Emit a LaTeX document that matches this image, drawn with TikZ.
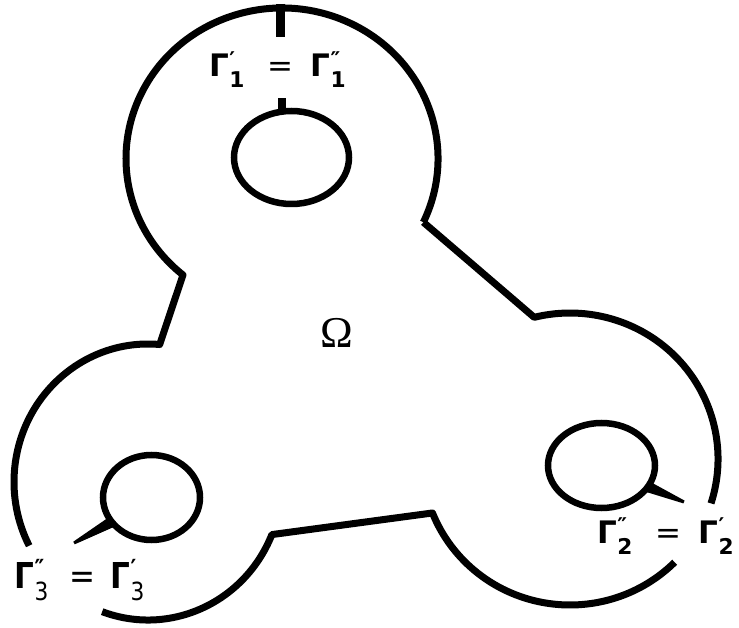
\documentclass[tikz,border=0pt]{standalone}
\usepackage{fontspec}
\usepackage{amsmath}
\usetikzlibrary{shapes.geometric,calc}
\newfontfamily\lblfont{DejaVu Sans}
\newfontfamily\omfont{Liberation Serif}
\tikzset{
  outline/.style={line width=7pt, line join=round, line cap=butt},
  hole/.style={draw, ellipse, line width=6.5pt, inner sep=0pt, outer sep=0pt},
  cutline/.style={fill=black},
  lbl/.style={font=\lblfont\bfseries\fontsize{31}{36}\selectfont, inner sep=0pt, anchor=base},
}
\newcommand{\eqsign}{{\mdseries =}}
\begin{document}
\begin{tikzpicture}[x=1pt,y=1pt]
\useasboundingbox (0,0) rectangle (739,627);
% lobe centres
\coordinate (C1) at (282,468.4);
\coordinate (C2) at (570,168);
\coordinate (C3) at (148,145);
\path (C1) ++(-25:156 and 150.6) coordinate (R1);
\path (C1) ++(230.6:156 and 150.6) coordinate (L1);
\path (C3) ++(85:134 and 138) coordinate (L3a);
\path (C3) ++(207.5:134 and 138) coordinate (L3b);
\path (C3) ++(250:134 and 138) coordinate (L3c);
\path (C3) ++(337.6:134 and 138) coordinate (L3d);
\path (C2) ++(201.7:148 and 146) coordinate (R2a);
\path (C2) ++(315:148 and 146) coordinate (R2b);
\path (C2) ++(342.3:148 and 146) coordinate (R2c);
\path (C2) ++(104:148 and 146) coordinate (R2d);
% outer boundary
\draw[outline] (R1) arc[start angle=-25, end angle=230.6, x radius=156, y radius=150.6]
  -- (L3a) arc[start angle=85, end angle=207.5, x radius=134, y radius=138];
\draw[outline] (L3c) arc[start angle=250, end angle=337.6, x radius=134, y radius=138]
  -- (R2a) arc[start angle=201.7, end angle=315, x radius=148, y radius=146];
\draw[outline] (R2c) arc[start angle=342.3, end angle=464, x radius=148, y radius=146]
  -- (R1);
% holes
\node[hole, minimum width=115pt, minimum height=93pt] (H1) at (291.5,469.5) {};
\node[hole, minimum width=107pt, minimum height=85pt] (H2) at (601.5,161.5) {};
\node[hole, minimum width=97pt, minimum height=85pt] (H3) at (151.5,129.5) {};
% cut 1
\coordinate (T0) at (280,623);
\coordinate (T1) at (280,590);
\draw[line width=9pt] (T0) -- (T1);
\coordinate (S0) at (282,516);
\coordinate (S1) at (282,529);
\draw[line width=8pt] (S0) -- (S1);
% cut 2 (tapered)
\path (H2.center) ++(-30:53.5 and 42.5) coordinate (P2a);
\coordinate (P2b) at (684,125);
\fill[cutline] ($(P2a)!5.5pt!90:(P2b)$) -- ($(P2b)!1.5pt!-90:(P2a)$) -- ($(P2b)!1.5pt!90:(P2a)$) -- ($(P2a)!5.5pt!-90:(P2b)$) -- cycle;
% cut 3 (tapered)
\path (H3.center) ++(215:48.5 and 42.5) coordinate (P3a);
\coordinate (P3b) at (74,84);
\fill[cutline] ($(P3a)!5.5pt!90:(P3b)$) -- ($(P3b)!1.5pt!-90:(P3a)$) -- ($(P3b)!1.5pt!90:(P3a)$) -- ($(P3a)!5.5pt!-90:(P3b)$) -- cycle;
% labels
\node[lbl] (G1) at (278,550) {Γ$^{\text{′}}_{\text{1}}$\hspace{22pt}\eqsign\hspace{18pt}Γ$^{\text{″}}_{\text{1}}$};
\node[lbl] (G2) at (666,84) {Γ$^{\text{″}}_{\text{2}}$\hspace{22pt}\eqsign\hspace{18pt}Γ$^{\text{′}}_{\text{2}}$};
\node[lbl, yscale=1.15] (G3) at (80,39) {Γ$^{\text{″}}_{\text{\mdseries 3}}$\hspace{20pt}\eqsign\hspace{16pt}Γ$^{\text{′}}_{\text{\mdseries 3}}$};
\node[font=\omfont\fontsize{44}{46}\selectfont, inner sep=0pt] (Om) at (337,294) {Ω};
\end{tikzpicture}
\end{document}
